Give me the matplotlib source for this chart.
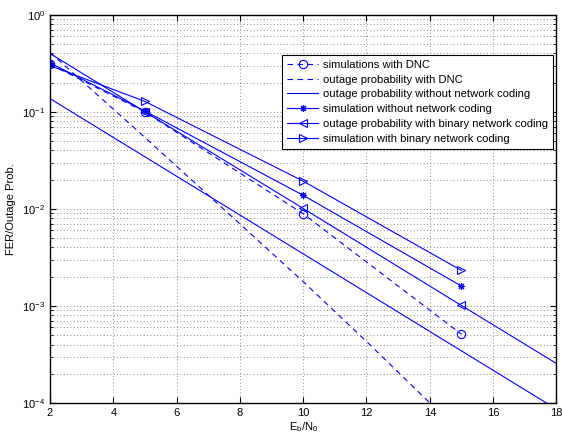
import matplotlib
matplotlib.use("Agg")
import matplotlib.pyplot as plt
from matplotlib.ticker import LogLocator, NullFormatter, FixedLocator

plt.rcParams['font.family'] = ['Liberation Sans', 'DejaVu Sans']
plt.rcParams['mathtext.fontset'] = 'custom'
plt.rcParams['mathtext.rm'] = 'Liberation Sans'

# Data
snr_sim = [2, 5, 10, 15]
snr_out = [2, 5, 10, 15, 20]
snr_dnc_out = [2, 5, 10, 12, 14, 15]

sim_dnc = [0.31, 0.0998, 0.0089, 0.00051]
out_dnc = [0.41, 0.0545, 0.00178, 0.00043, 0.0001, 0.000048]
out_no_nc = [0.137, 0.0344, 0.00344, 0.000344, 0.0000344]
sim_no_nc = [0.32, 0.102, 0.0138, 0.0016]
out_bnc = [0.40, 0.1, 0.0101, 0.00101, 0.000102]
sim_bnc = [0.30, 0.128, 0.0193, 0.00232]

labels = ["simulations with DNC",
          "outage probability with DNC",
          "outage probability without network coding",
          "simulation without network coding",
          "outage probability with binary network coding",
          "simulation with binary network coding"]

xticks = [2, 4, 6, 8, 10, 12, 14, 16, 18]

fig = plt.figure(figsize=(5.62, 4.37), dpi=100)
ax = fig.add_axes([0.089, 0.078, 0.901, 0.888])

blue = (0, 0, 1)
lw = 0.8
asterisk = (8, 2, 0)
ax.semilogy(snr_sim, sim_dnc, linestyle='--', marker='o', color=blue, lw=lw,
            mfc='none', ms=6, mew=0.8, label=labels[0], dashes=(5, 4))
ax.semilogy(snr_dnc_out, out_dnc, linestyle='--', color=blue, lw=lw,
            label=labels[1], dashes=(5, 4))
ax.semilogy(snr_out, out_no_nc, linestyle='-', color=blue, lw=lw, label=labels[2])
ax.semilogy(snr_sim, sim_no_nc, linestyle='-', marker=asterisk, color=blue, lw=lw,
            ms=5, mew=0.8, label=labels[3])
ax.semilogy(snr_out, out_bnc, linestyle='-', marker='<', color=blue, lw=lw,
            mfc='none', ms=6, mew=0.8, markevery=[1, 2, 3, 4], label=labels[4])
ax.semilogy(snr_sim, sim_bnc, linestyle='-', marker='>', color=blue, lw=lw,
            mfc='none', ms=6, mew=0.8, label=labels[5])

ax.set_xlim(2, 18)
ax.set_ylim(1e-4, 1)
ax.xaxis.set_major_locator(FixedLocator(xticks))
ax.yaxis.set_major_locator(LogLocator(base=10, numticks=10))
ax.yaxis.set_minor_locator(LogLocator(base=10, subs=range(2, 10), numticks=50))
ax.yaxis.set_minor_formatter(NullFormatter())

ax.grid(True, which='major', axis='both', linestyle=(0, (1, 3)), color='0.4', lw=0.6)
ax.grid(True, which='minor', axis='y', linestyle=(0, (1, 3)), color='0.4', lw=0.6)

ax.tick_params(which='both', direction='in', top=True, right=True, labelsize=8)
ax.tick_params(which='major', length=4, width=0.8)
ax.tick_params(which='minor', length=2, width=0.6)
for s in ax.spines.values():
    s.set_linewidth(1.0)

ax.set_xlabel(r'E$_\mathregular{b}$/N$_\mathregular{0}$', fontsize=8, labelpad=2)
ax.set_ylabel('FER/Outage Prob.', fontsize=8, labelpad=4)

leg = ax.legend(loc='upper right', bbox_to_anchor=(0.993, 0.897), fontsize=8.1,
                fancybox=False, edgecolor='black', framealpha=1,
                handlelength=2.8, borderpad=0.45, labelspacing=0.42,
                handletextpad=0.4, borderaxespad=0)
leg.get_frame().set_linewidth(0.8)

fig.savefig('out.png', dpi=100)
